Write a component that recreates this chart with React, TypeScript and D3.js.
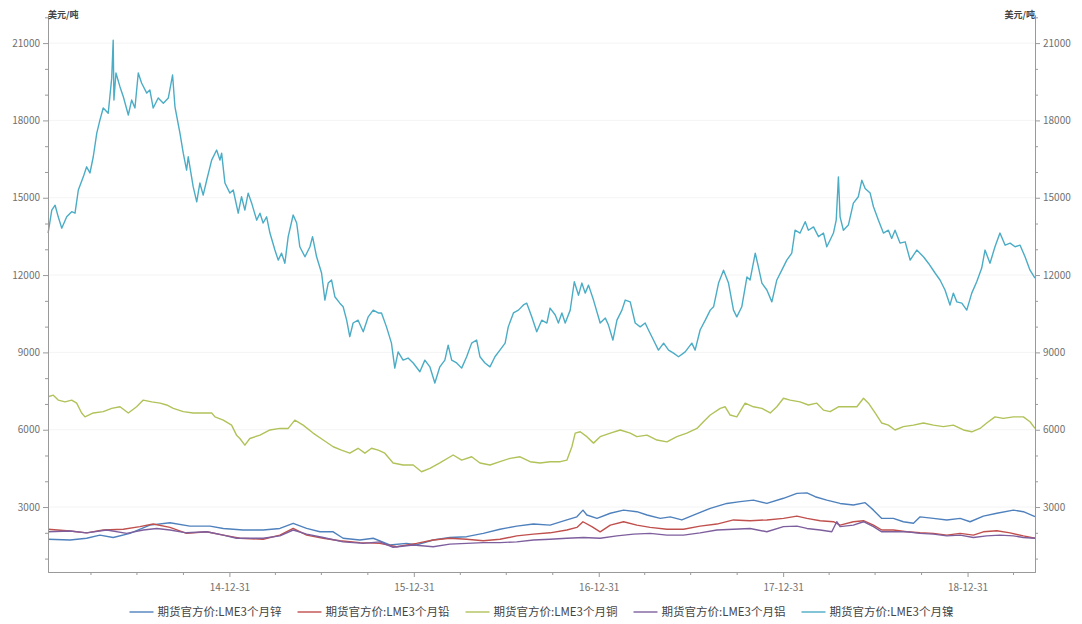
import { useEffect, useRef } from "react";
import * as d3 from "d3";

// dates are decimal years (2015.000 ~ 14-12-31), values in 美元/吨
const seriesNames = [
  "期货官方价:LME3个月锌",
  "期货官方价:LME3个月铅",
  "期货官方价:LME3个月铜",
  "期货官方价:LME3个月铝",
  "期货官方价:LME3个月镍",
];
const seriesColors = ["#4F81BD", "#C0504D", "#B1C259", "#7E5F9E", "#4BACC6"];

const zinc: [number, number][] = [
  [2014.014, 1750], [2014.133, 1720], [2014.223, 1790], [2014.295, 1910], [2014.367, 1820],
  [2014.458, 1980], [2014.566, 2300], [2014.675, 2390], [2014.783, 2260], [2014.892, 2260],
  [2014.964, 2170], [2015.072, 2110], [2015.18, 2110], [2015.271, 2170], [2015.343, 2370],
  [2015.416, 2170], [2015.488, 2040], [2015.56, 2040], [2015.614, 1790], [2015.705, 1720],
  [2015.777, 1790], [2015.867, 1530], [2015.958, 1590], [2016.012, 1530], [2016.102, 1720],
  [2016.192, 1820], [2016.283, 1850], [2016.373, 1980], [2016.463, 2140], [2016.554, 2260],
  [2016.644, 2340], [2016.734, 2300], [2016.825, 2500], [2016.879, 2620], [2016.912, 2880],
  [2016.933, 2690], [2016.988, 2560], [2017.06, 2760], [2017.132, 2880], [2017.204, 2820],
  [2017.259, 2690], [2017.331, 2560], [2017.385, 2620], [2017.448, 2500], [2017.511, 2690],
  [2017.602, 2950], [2017.692, 3140], [2017.764, 3210], [2017.836, 3270], [2017.909, 3140],
  [2017.999, 3340], [2018.072, 3530], [2018.126, 3550], [2018.171, 3400], [2018.234, 3270],
  [2018.306, 3140], [2018.378, 3080], [2018.442, 3170], [2018.487, 2880], [2018.532, 2560],
  [2018.595, 2560], [2018.649, 2430], [2018.704, 2370], [2018.74, 2620], [2018.812, 2560],
  [2018.885, 2500], [2018.957, 2560], [2019.011, 2430], [2019.083, 2650], [2019.156, 2760],
  [2019.246, 2880], [2019.3, 2820], [2019.363, 2630],
];

const lead: [number, number][] = [
  [2014.014, 2140], [2014.133, 2070], [2014.223, 2000], [2014.313, 2110], [2014.422, 2140],
  [2014.512, 2240], [2014.584, 2340], [2014.675, 2210], [2014.765, 1980], [2014.874, 2040],
  [2014.964, 1910], [2015.054, 1790], [2015.18, 1750], [2015.271, 1910], [2015.343, 2170],
  [2015.416, 1910], [2015.506, 1790], [2015.596, 1690], [2015.705, 1620], [2015.813, 1590],
  [2015.904, 1460], [2016.012, 1590], [2016.102, 1720], [2016.192, 1790], [2016.283, 1750],
  [2016.373, 1690], [2016.463, 1750], [2016.554, 1880], [2016.644, 1950], [2016.734, 2000],
  [2016.825, 2110], [2016.879, 2210], [2016.912, 2430], [2016.96, 2240], [2017.005, 2040],
  [2017.06, 2300], [2017.132, 2430], [2017.204, 2300], [2017.276, 2210], [2017.367, 2140],
  [2017.457, 2140], [2017.547, 2260], [2017.638, 2340], [2017.728, 2500], [2017.818, 2470],
  [2017.909, 2500], [2017.999, 2560], [2018.072, 2650], [2018.126, 2560], [2018.198, 2470],
  [2018.27, 2430], [2018.306, 2300], [2018.378, 2430], [2018.433, 2470], [2018.487, 2300],
  [2018.532, 2110], [2018.595, 2110], [2018.668, 2040], [2018.74, 2000], [2018.812, 1980],
  [2018.885, 1910], [2018.957, 1980], [2019.029, 1910], [2019.083, 2040], [2019.156, 2080],
  [2019.228, 2000], [2019.3, 1880], [2019.363, 1790],
];

const copper: [number, number][] = [
  [2014.014, 7280], [2014.042, 7340], [2014.069, 7150], [2014.106, 7080], [2014.142, 7150],
  [2014.169, 7030], [2014.196, 6650], [2014.214, 6500], [2014.259, 6650], [2014.313, 6700],
  [2014.359, 6830], [2014.404, 6890], [2014.449, 6650], [2014.494, 6890], [2014.53, 7150],
  [2014.576, 7080], [2014.621, 7030], [2014.657, 6960], [2014.693, 6830], [2014.747, 6700],
  [2014.801, 6650], [2014.855, 6650], [2014.901, 6650], [2014.919, 6500], [2014.964, 6370],
  [2015.009, 6180], [2015.036, 5790], [2015.054, 5660], [2015.081, 5400], [2015.108, 5660],
  [2015.163, 5790], [2015.217, 5990], [2015.271, 6050], [2015.316, 6050], [2015.352, 6370],
  [2015.397, 6180], [2015.451, 5870], [2015.506, 5600], [2015.56, 5340], [2015.605, 5210],
  [2015.65, 5090], [2015.695, 5280], [2015.732, 5090], [2015.768, 5280], [2015.804, 5210],
  [2015.84, 5090], [2015.885, 4710], [2015.939, 4630], [2015.994, 4630], [2016.039, 4370],
  [2016.084, 4500], [2016.138, 4710], [2016.21, 5020], [2016.256, 4820], [2016.31, 4950],
  [2016.355, 4710], [2016.409, 4630], [2016.463, 4760], [2016.518, 4890], [2016.572, 4950],
  [2016.626, 4760], [2016.68, 4710], [2016.734, 4760], [2016.789, 4760], [2016.825, 4820],
  [2016.852, 5340], [2016.87, 5870], [2016.897, 5920], [2016.933, 5730], [2016.969, 5480],
  [2017.005, 5730], [2017.06, 5870], [2017.114, 5990], [2017.168, 5870], [2017.204, 5730],
  [2017.259, 5790], [2017.313, 5600], [2017.367, 5530], [2017.421, 5730], [2017.475, 5870],
  [2017.53, 6050], [2017.565, 6310], [2017.602, 6570], [2017.656, 6830], [2017.683, 6890],
  [2017.71, 6570], [2017.746, 6500], [2017.791, 7030], [2017.836, 6890], [2017.882, 6830],
  [2017.927, 6650], [2017.963, 6890], [2017.999, 7220], [2018.035, 7150], [2018.089, 7080],
  [2018.134, 6960], [2018.18, 7030], [2018.216, 6760], [2018.252, 6700], [2018.297, 6890],
  [2018.343, 6890], [2018.397, 6890], [2018.433, 7220], [2018.46, 7030], [2018.496, 6650],
  [2018.532, 6260], [2018.568, 6180], [2018.604, 5990], [2018.649, 6120], [2018.704, 6180],
  [2018.758, 6260], [2018.812, 6180], [2018.866, 6120], [2018.92, 6180], [2018.975, 5990],
  [2019.02, 5920], [2019.065, 6050], [2019.101, 6260], [2019.146, 6500], [2019.191, 6440],
  [2019.246, 6500], [2019.3, 6500], [2019.336, 6310], [2019.363, 6050],
];

const aluminium: [number, number][] = [
  [2014.014, 2040], [2014.133, 2070], [2014.223, 2000], [2014.332, 2110], [2014.44, 1980],
  [2014.53, 2110], [2014.603, 2170], [2014.675, 2110], [2014.765, 2000], [2014.874, 2040],
  [2014.964, 1910], [2015.036, 1790], [2015.18, 1790], [2015.271, 1880], [2015.343, 2110],
  [2015.416, 1950], [2015.506, 1820], [2015.614, 1650], [2015.723, 1590], [2015.813, 1650],
  [2015.885, 1440], [2015.994, 1530], [2016.102, 1460], [2016.192, 1560], [2016.283, 1590],
  [2016.373, 1620], [2016.463, 1620], [2016.554, 1650], [2016.644, 1720], [2016.734, 1750],
  [2016.825, 1790], [2016.915, 1820], [2017.005, 1790], [2017.096, 1880], [2017.186, 1950],
  [2017.276, 1980], [2017.367, 1910], [2017.457, 1910], [2017.547, 2000], [2017.638, 2110],
  [2017.728, 2140], [2017.818, 2170], [2017.909, 2040], [2017.999, 2240], [2018.072, 2260],
  [2018.126, 2170], [2018.198, 2110], [2018.261, 2040], [2018.288, 2430], [2018.306, 2240],
  [2018.378, 2300], [2018.433, 2430], [2018.487, 2240], [2018.532, 2040], [2018.595, 2040],
  [2018.668, 2040], [2018.74, 1980], [2018.812, 1950], [2018.885, 1880], [2018.957, 1910],
  [2019.029, 1820], [2019.101, 1880], [2019.173, 1910], [2019.246, 1880], [2019.3, 1820],
  [2019.363, 1790],
];

const nickel: [number, number][] = [
  [2014.014, 13630], [2014.034, 14520], [2014.052, 14710], [2014.069, 14260], [2014.088, 13820],
  [2014.115, 14260], [2014.142, 14460], [2014.16, 14400], [2014.178, 15300], [2014.205, 15810],
  [2014.223, 16200], [2014.241, 15960], [2014.259, 16590], [2014.278, 17510], [2014.295, 18010],
  [2014.313, 18480], [2014.34, 18280], [2014.359, 19640], [2014.367, 21110], [2014.371, 18790],
  [2014.382, 19840], [2014.404, 19300], [2014.422, 18920], [2014.449, 18210], [2014.467, 18790],
  [2014.485, 18480], [2014.503, 19840], [2014.521, 19450], [2014.549, 19060], [2014.566, 19180],
  [2014.584, 18480], [2014.611, 18870], [2014.639, 18670], [2014.666, 18870], [2014.689, 19760],
  [2014.702, 18530], [2014.729, 17510], [2014.747, 16730], [2014.765, 16070], [2014.774, 16590],
  [2014.801, 15420], [2014.82, 14840], [2014.837, 15570], [2014.855, 15100], [2014.874, 15680],
  [2014.901, 16460], [2014.928, 16850], [2014.946, 16460], [2014.955, 16730], [2014.973, 15570],
  [2015.0, 15180], [2015.018, 15300], [2015.045, 14400], [2015.063, 15040], [2015.081, 14520],
  [2015.099, 15180], [2015.118, 14790], [2015.145, 14130], [2015.163, 14400], [2015.18, 14020],
  [2015.199, 14260], [2015.217, 13630], [2015.244, 12970], [2015.262, 12580], [2015.28, 12850],
  [2015.298, 12460], [2015.316, 13490], [2015.343, 14330], [2015.362, 14020], [2015.379, 13100],
  [2015.407, 12710], [2015.434, 13100], [2015.448, 13490], [2015.47, 12710], [2015.497, 12080],
  [2015.515, 11030], [2015.533, 11690], [2015.551, 11810], [2015.569, 11160], [2015.596, 10910],
  [2015.614, 10770], [2015.633, 10250], [2015.65, 9610], [2015.668, 10140], [2015.695, 10250],
  [2015.723, 9800], [2015.75, 10380], [2015.777, 10640], [2015.804, 10530], [2015.822, 10530],
  [2015.849, 9990], [2015.876, 9360], [2015.894, 8390], [2015.912, 9020], [2015.939, 8700],
  [2015.966, 8780], [2015.994, 8590], [2016.03, 8250], [2016.057, 8700], [2016.084, 8440],
  [2016.111, 7810], [2016.138, 8440], [2016.165, 8700], [2016.183, 9280], [2016.202, 8700],
  [2016.229, 8590], [2016.256, 8390], [2016.283, 8830], [2016.31, 9360], [2016.337, 9480],
  [2016.355, 8830], [2016.382, 8590], [2016.409, 8440], [2016.436, 8830], [2016.463, 9090],
  [2016.491, 9360], [2016.508, 9990], [2016.536, 10530], [2016.563, 10640], [2016.59, 10840],
  [2016.608, 10910], [2016.635, 10380], [2016.662, 9800], [2016.689, 10250], [2016.717, 10140],
  [2016.734, 10720], [2016.762, 10450], [2016.779, 10140], [2016.798, 10530], [2016.816, 10140],
  [2016.843, 10640], [2016.865, 11740], [2016.888, 11220], [2016.906, 11690], [2016.924, 11300],
  [2016.942, 11610], [2016.969, 11030], [2017.005, 10140], [2017.033, 10330], [2017.05, 10060],
  [2017.074, 9480], [2017.096, 10250], [2017.123, 10640], [2017.141, 11030], [2017.168, 10960],
  [2017.195, 10140], [2017.222, 9990], [2017.249, 10140], [2017.267, 9870], [2017.294, 9480],
  [2017.321, 9090], [2017.349, 9360], [2017.376, 9090], [2017.403, 8970], [2017.43, 8830],
  [2017.466, 9020], [2017.502, 9360], [2017.52, 9090], [2017.547, 9870], [2017.575, 10250],
  [2017.602, 10640], [2017.62, 10770], [2017.647, 11690], [2017.674, 12190], [2017.701, 11690],
  [2017.728, 10640], [2017.746, 10380], [2017.773, 10770], [2017.801, 11930], [2017.818, 11810],
  [2017.846, 12850], [2017.863, 12320], [2017.882, 11690], [2017.909, 11420], [2017.936, 10960],
  [2017.963, 11810], [2017.99, 12190], [2018.017, 12580], [2018.044, 12850], [2018.062, 13740],
  [2018.089, 13630], [2018.117, 14070], [2018.134, 13740], [2018.162, 13870], [2018.189, 13490],
  [2018.216, 13630], [2018.234, 13100], [2018.252, 13360], [2018.27, 13630], [2018.285, 14130],
  [2018.297, 15810], [2018.306, 14260], [2018.324, 13740], [2018.351, 13940], [2018.378, 14790],
  [2018.405, 15040], [2018.424, 15680], [2018.442, 15360], [2018.469, 15180], [2018.487, 14650],
  [2018.514, 14130], [2018.541, 13630], [2018.568, 13740], [2018.586, 13420], [2018.604, 13740],
  [2018.631, 13240], [2018.659, 13290], [2018.686, 12580], [2018.722, 12970], [2018.758, 12710],
  [2018.785, 12460], [2018.821, 12080], [2018.848, 11810], [2018.875, 11420], [2018.902, 10840],
  [2018.92, 11300], [2018.939, 10960], [2018.966, 10910], [2018.993, 10640], [2019.02, 11300],
  [2019.047, 11740], [2019.074, 12270], [2019.092, 12970], [2019.119, 12460], [2019.146, 13100],
  [2019.173, 13630], [2019.201, 13160], [2019.228, 13240], [2019.255, 13100], [2019.282, 13160],
  [2019.309, 12710], [2019.336, 12190], [2019.363, 11880],
];

const allSeries = [zinc, lead, copper, aluminium, nickel];

const yMajorTicks = [3000, 6000, 9000, 12000, 15000, 18000, 21000];
const yMinorTicks = [1000, 2000, 4000, 5000, 7000, 8000, 10000, 11000, 13000, 14000, 16000, 17000, 19000, 20000, 22000];
const xMajorYears = [2014, 2015, 2016, 2017, 2018];
const yDomain = [480, 22090];
const xDomain = [2014.0135, 2019.363];

const toDate = (t: number) => {
  const y = Math.floor(t);
  const s = Date.UTC(y, 0, 1);
  const e = Date.UTC(y + 1, 0, 1);
  return new Date(s + (t - y) * (e - s));
};

const W = 1082;
const H = 624;
const margin = { top: 15, right: 47, bottom: 52, left: 48 };
const font = "'Noto Sans CJK SC', 'Noto Sans', sans-serif";

export default function App() {
  const svgRef = useRef<SVGSVGElement>(null);

  useEffect(() => {
    if (!svgRef.current) return;
    const svg = d3.select(svgRef.current);
    svg.selectAll("*").remove();

    const x0 = margin.left;
    const x1 = W - margin.right;
    const y1 = H - margin.bottom;

    const x = d3.scaleUtc().domain(xDomain.map(toDate)).range([x0, x1]);
    const y = d3.scaleLinear().domain(yDomain).range([y1, margin.top]);

    // faint gridlines
    svg
      .append("g")
      .selectAll("line")
      .data(yMajorTicks)
      .join("line")
      .attr("x1", x0)
      .attr("x2", x1)
      .attr("y1", (d) => y(d))
      .attr("y2", (d) => y(d))
      .attr("stroke", "#f4f4f4");

    const line = d3
      .line<[number, number]>()
      .x((d) => x(toDate(d[0])))
      .y((d) => y(d[1]));

    const order = [2, 4, 0, 1, 3];
    order.forEach((i) => {
      svg
        .append("path")
        .datum(allSeries[i])
        .attr("fill", "none")
        .attr("stroke", seriesColors[i])
        .attr("stroke-width", 1.4)
        .attr("stroke-linejoin", "round")
        .attr("d", line);
    });

    const styleAxis = (g: d3.Selection<SVGGElement, unknown, null, undefined>) => {
      g.selectAll("path, line").attr("stroke", "#9a9a9a");
      g.selectAll("text").attr("fill", "#707070").attr("font-size", 10).attr("font-family", font);
    };

    // left axis
    const leftMinor = svg.append("g").attr("transform", `translate(${x0},0)`);
    leftMinor.call(d3.axisLeft(y).tickValues(yMinorTicks).tickSize(3).tickSizeOuter(0).tickFormat(() => ""));
    styleAxis(leftMinor);
    const left = svg.append("g").attr("transform", `translate(${x0},0)`);
    left.call(d3.axisLeft(y).tickValues(yMajorTicks).tickSize(5).tickSizeOuter(0).tickPadding(3).tickFormat(d3.format("d")));
    styleAxis(left);

    // right axis
    const rightMinor = svg.append("g").attr("transform", `translate(${x1},0)`);
    rightMinor.call(d3.axisRight(y).tickValues(yMinorTicks).tickSize(3).tickSizeOuter(0).tickFormat(() => ""));
    styleAxis(rightMinor);
    const right = svg.append("g").attr("transform", `translate(${x1},0)`);
    right.call(d3.axisRight(y).tickValues(yMajorTicks).tickSize(5).tickSizeOuter(0).tickPadding(3).tickFormat(d3.format("d")));
    styleAxis(right);

    // bottom axis
    const quarterEnds: Date[] = [];
    for (let yr = 2014; yr <= 2019; yr++) {
      [[2, 31], [5, 30], [8, 30]].forEach(([m, d]) => {
        const dt = new Date(Date.UTC(yr, m, d));
        if (dt >= x.domain()[0] && dt <= x.domain()[1]) quarterEnds.push(dt);
      });
    }
    const bottomMinor = svg.append("g").attr("transform", `translate(0,${y1})`);
    bottomMinor.call(d3.axisBottom(x).tickValues(quarterEnds).tickSize(3).tickSizeOuter(0).tickFormat(() => ""));
    styleAxis(bottomMinor);
    const bottom = svg.append("g").attr("transform", `translate(0,${y1})`);
    bottom.call(
      d3
        .axisBottom(x)
        .tickValues(xMajorYears.map((yr) => new Date(Date.UTC(yr, 11, 31))))
        .tickSize(5)
        .tickSizeOuter(0)
        .tickPadding(7)
        .tickFormat((d) => d3.utcFormat("%y-%m-%d")(d as Date))
    );
    styleAxis(bottom);

    // unit labels
    [
      { lx: x0, anchor: "start" },
      { lx: x1, anchor: "end" },
    ].forEach(({ lx, anchor }) => {
      svg
        .append("text")
        .attr("x", lx)
        .attr("y", 18)
        .attr("text-anchor", anchor)
        .attr("font-size", 9)
        .attr("font-weight", "bold")
        .attr("font-family", font)
        .attr("fill", "#444")
        .text("美元/吨");
    });

    // legend
    const itemW = 168;
    const legendStart = (x0 + x1) / 2 - (itemW * seriesNames.length) / 2 + 8;
    const legend = svg.append("g").attr("transform", `translate(0,612)`);
    seriesNames.forEach((name, i) => {
      const lx = legendStart + i * itemW;
      legend
        .append("line")
        .attr("x1", lx)
        .attr("x2", lx + 24)
        .attr("y1", 0)
        .attr("y2", 0)
        .attr("stroke", seriesColors[i])
        .attr("stroke-width", 1.4);
      legend
        .append("text")
        .attr("x", lx + 28)
        .attr("y", 0)
        .attr("dy", "0.35em")
        .attr("font-size", 11.5)
        .attr("font-family", font)
        .attr("fill", "#444")
        .text(name);
    });
  }, []);

  return (
    <svg
      ref={svgRef}
      width={W}
      height={H}
      style={{ position: "absolute", left: 0, top: 0, background: "#fff" }}
    />
  );
}
